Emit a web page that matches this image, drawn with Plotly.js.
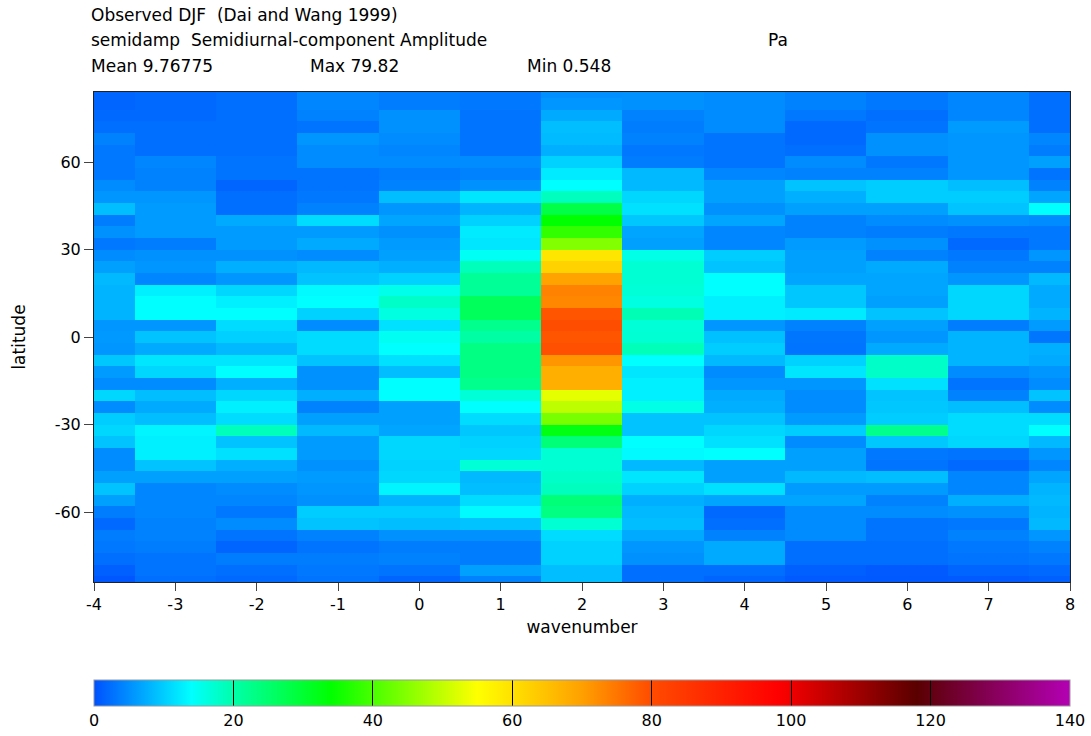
<!DOCTYPE html>
<html>
<head>
<meta charset="utf-8">
<script src="https://cdn.plot.ly/plotly-3.0.1.min.js"></script>
<style>html,body{margin:0;padding:0;background:#fff;}#chart{width:1091px;height:736px;}</style>
</head>
<body>
<div id="chart"></div>
<script>
// ---- data ----
const wavenumbers = [-4,-3,-2,-1,0,1,2,3,4,5,6,7,8];
const latitudes = [84,80,76,72,68,64,60,56,52,48,44,40,36,32,28,24,20,16,12,8,4,0,-4,-8,-12,-16,-20,-24,-28,-32,-36,-40,-44,-48,-52,-56,-60,-64,-68,-72,-76,-80,-84];

// amplitude (Pa) per wavenumber, ordered from 84N to 84S
const amp_wn_m4 = [1.6,1.6,2.0,2.4,4.0,3.2,3.2,3.2,4.8,5.6,8.8,3.6,5.2,3.2,4.8,6.4,8.4,8.0,8.0,8.0,5.6,5.8,5.6,9.6,6.0,4.8,10.8,4.8,10.0,10.8,9.2,4.8,4.8,6.4,9.2,6.4,3.6,2.0,3.6,3.2,2.4,1.2,0.548];
const amp_wn_m3 = [2.0,2.0,2.0,2.4,2.4,2.4,4.4,4.0,4.0,5.6,6.0,6.0,6.0,3.6,5.2,5.6,4.4,12.8,14.0,14.0,5.6,9.2,7.2,12.0,10.8,4.8,8.8,7.2,8.8,13.2,12.8,12.8,9.2,6.4,4.4,4.4,4.4,4.0,4.0,3.6,2.8,2.8,2.4];
const amp_wn_m2 = [2.4,2.4,2.4,2.4,2.4,2.4,2.8,2.8,1.6,2.4,2.4,7.2,6.0,6.0,5.2,7.6,5.6,10.8,12.8,14.0,11.2,10.2,8.4,12.0,14.0,7.6,10.8,12.8,11.2,18.9,9.2,11.6,7.6,6.4,4.8,4.4,3.2,4.8,2.8,1.6,3.6,2.4,2.0];
const amp_wn_m1 = [4.4,4.4,4.0,2.8,5.6,4.8,4.8,2.8,2.8,3.2,4.0,11.2,6.0,7.2,4.8,8.4,9.2,13.6,14.0,10.4,4.8,11.2,11.2,9.2,5.2,5.2,7.6,4.0,6.4,8.4,6.0,6.0,5.2,6.0,5.6,5.2,10.0,9.2,4.0,2.8,3.6,3.2,2.8];
const amp_wn_0  = [3.6,3.6,5.2,5.2,4.8,4.4,4.8,3.6,4.0,8.8,5.6,6.8,5.2,6.0,6.4,7.6,10.4,15.4,17.9,16.1,11.6,14.9,14.0,11.6,8.8,14.0,14.0,6.4,6.4,6.8,10.8,10.8,10.4,10.8,13.2,8.0,10.0,8.8,5.2,3.6,4.0,2.8,1.6];
const amp_wn_1  = [3.2,3.2,2.8,2.8,2.8,2.8,4.8,4.0,5.2,12.0,8.0,10.4,12.4,12.0,14.7,18.9,21.6,21.6,26.6,26.6,22.5,20.4,23.3,23.3,23.3,22.5,16.8,14.0,11.2,9.6,10.4,10.8,16.8,8.4,8.8,11.2,13.6,9.2,5.2,3.6,3.6,6.4,4.0];
const amp_wn_2  = [5.0,5.6,7.2,8.8,8.6,7.6,10.4,12.4,14.0,18.6,28.2,34.0,38.1,44.7,59.2,62.3,69.5,73.5,73.0,78.8,79.82,78.8,79.5,71.2,67.7,67.7,52.9,49.6,43.9,32.4,24.1,17.2,17.2,17.9,18.6,24.1,23.3,17.2,11.2,10.4,10.4,8.8,8.8];
const amp_wn_3  = [5.2,5.2,4.0,3.6,4.0,3.2,3.6,8.4,8.4,10.8,11.6,9.6,6.8,6.4,15.8,17.2,17.2,16.8,16.1,19.3,16.8,17.2,19.0,14.0,12.0,12.8,12.8,15.8,9.2,9.2,14.0,13.6,8.4,12.0,10.4,7.6,8.4,8.8,7.2,5.6,5.2,2.4,2.4];
const amp_wn_4  = [4.8,4.8,4.8,4.8,2.8,2.8,2.8,4.4,6.4,6.4,5.2,6.8,4.4,4.4,10.0,9.2,14.0,14.0,12.8,12.8,5.6,9.0,10.0,8.4,4.8,5.6,7.2,7.6,9.2,10.8,11.6,14.0,6.4,6.4,11.6,6.8,2.0,2.4,4.0,7.2,7.2,2.4,1.6];
const amp_wn_5  = [4.0,4.0,3.2,2.0,2.0,2.4,4.8,4.0,9.2,7.6,6.4,4.0,4.0,6.0,6.4,6.4,6.8,9.6,9.6,12.4,4.0,3.0,2.8,10.4,12.0,5.6,4.8,4.8,6.0,10.0,4.8,6.4,6.4,8.4,6.0,6.8,4.8,4.8,4.8,2.4,2.4,1.2,0.8];
const amp_wn_6  = [3.2,3.2,2.4,2.8,5.2,5.2,3.2,4.0,10.0,10.0,6.4,4.8,3.6,5.2,4.0,7.2,6.8,6.8,6.4,9.2,6.4,5.6,7.2,17.9,17.9,11.6,9.2,9.6,10.0,22.5,9.6,3.2,2.8,8.8,6.0,4.0,4.8,2.8,2.8,2.4,2.4,0.8,0.6];
const amp_wn_7  = [4.4,4.4,4.4,6.0,5.6,5.6,5.6,5.6,8.8,10.0,9.2,5.2,3.2,2.0,3.2,4.0,5.6,10.8,10.8,10.8,3.6,8.0,8.0,8.0,4.8,2.8,4.0,8.8,11.2,11.2,10.8,2.8,2.0,4.4,4.4,7.6,5.2,3.2,4.0,3.2,2.8,1.6,0.8];
const amp_wn_8  = [2.4,2.4,2.4,2.4,4.4,3.6,6.4,2.8,4.0,6.8,14.0,4.8,3.2,3.2,5.6,4.0,8.4,7.2,7.2,8.0,6.0,3.0,7.6,7.2,5.6,4.8,9.2,4.8,11.2,14.0,8.4,5.6,4.4,6.8,8.0,8.4,8.0,8.4,5.6,4.0,3.2,2.0,1.2];

const xTickVals = [-4,-3,-2,-1,0,1,2,3,4,5,6,7,8];
const xTickText = ['-4','-3','-2','-1','0','1','2','3','4','5','6','7','8'];
const yTickVals = [-60,-30,0,30,60];
const yTickText = ['-60','-30','0','30','60'];
const cbTickVals = [0,20,40,60,80,100,120,140];
const cbTickText = ['0','20','40','60','80','100','120','140'];

const headerLine1 = 'Observed DJF  (Dai and Wang 1999)';
const headerLine2 = 'semidamp  Semidiurnal-component Amplitude';
const unitsText = 'Pa';
const meanText = 'Mean 9.76775';
const maxText = 'Max 79.82';
const minText = 'Min 0.548';

// ---- build ----
const columns = [amp_wn_m4,amp_wn_m3,amp_wn_m2,amp_wn_m1,amp_wn_0,amp_wn_1,amp_wn_2,amp_wn_3,amp_wn_4,amp_wn_5,amp_wn_6,amp_wn_7,amp_wn_8];
const z = latitudes.map((_, i) => columns.map(col => col[i]));

const FONT = 'DejaVu Sans, Liberation Sans, sans-serif';
const W = 1091, H = 736;
const L = 94, R = 21, T = 92, B = 154;
const PW = W - L - R, PH = H - T - B;
const px = v => (v - L) / PW;
const py = v => (H - B - v) / PH;

const colorscale = [
  [0, 'rgb(0,80,255)'],
  [14/140, 'rgb(0,255,255)'],
  [20/140, 'rgb(0,255,170)'],
  [34/140, 'rgb(0,255,0)'],
  [55/140, 'rgb(255,255,0)'],
  [60/140, 'rgb(255,225,0)'],
  [70/140, 'rgb(255,160,0)'],
  [80/140, 'rgb(255,75,0)'],
  [98/140, 'rgb(255,0,0)'],
  [118/140, 'rgb(90,0,0)'],
  [1, 'rgb(180,0,180)']
];

const trace = {
  type: 'heatmap',
  x: wavenumbers,
  y: latitudes,
  z: z,
  zmin: 0, zmax: 140,
  colorscale: colorscale,
  hoverinfo: 'skip',
  colorbar: {
    orientation: 'h',
    x: 0.5, xanchor: 'center',
    y: -(680 - (H - B)) / PH, yanchor: 'top',
    len: PW, lenmode: 'pixels',
    thickness: 26, thicknessmode: 'pixels',
    xpad: 0, ypad: 0,
    outlinewidth: 1, outlinecolor: '#999',
    ticks: 'inside', ticklen: 26, tickwidth: 1, tickcolor: '#000',
    tickmode: 'array', tickvals: cbTickVals, ticktext: cbTickText,
    tickfont: {family: FONT, size: 16, color: '#000'}
  }
};

const ann = (text, xPx, yPx) => ({
  text: text, xref: 'paper', yref: 'paper',
  x: px(xPx), y: py(yPx), xanchor: 'left', yanchor: 'middle',
  showarrow: false, font: {family: FONT, size: 17, color: '#000'}
});

const layout = {
  width: W, height: H,
  margin: {l: L, r: R, t: T, b: B, pad: 0, autoexpand: false},
  paper_bgcolor: '#fff', plot_bgcolor: '#fff',
  font: {family: FONT, size: 16, color: '#000'},
  showlegend: false,
  xaxis: {
    range: [-4, 8], autorange: false, automargin: false,
    tickmode: 'array', tickvals: xTickVals, ticktext: xTickText,
    ticks: 'outside', ticklen: 8, tickcolor: '#444', tickwidth: 1,
    showline: true, linecolor: '#222', linewidth: 1, mirror: true,
    showgrid: false, zeroline: false,
    tickfont: {family: FONT, size: 16, color: '#000'},
    title: {text: 'wavenumber', font: {family: FONT, size: 17, color: '#000'}, standoff: 7}
  },
  yaxis: {
    range: [-84, 84], autorange: false, automargin: false,
    tickmode: 'array', tickvals: yTickVals, ticktext: yTickText,
    ticks: 'outside', ticklen: 9, tickcolor: '#444', tickwidth: 1,
    showline: true, linecolor: '#222', linewidth: 1, mirror: true,
    showgrid: false, zeroline: false,
    tickfont: {family: FONT, size: 16, color: '#000'},
    title: {text: 'latitude', font: {family: FONT, size: 17, color: '#000'}, standoff: 24}
  },
  annotations: [
    ann(headerLine1, 89, 15),
    ann(headerLine2, 89, 40),
    ann(unitsText, 766, 40),
    ann(meanText, 89, 66),
    ann(maxText, 308, 66),
    ann(minText, 525, 66)
  ]
};

Plotly.newPlot('chart', [trace], layout, {displayModeBar: false, staticPlot: true});
</script>
</body>
</html>
